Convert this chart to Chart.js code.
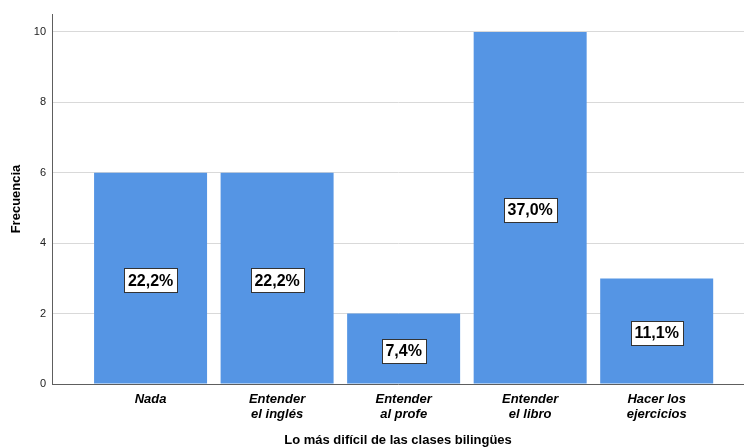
<!DOCTYPE html>
<html>
<head>
<meta charset="utf-8">
<script src="https://cdn.jsdelivr.net/npm/chart.js@4/dist/chart.umd.min.js"></script>
<style>
  html, body { margin: 0; padding: 0; background: #fff; }
  #wrap { width: 744px; height: 448px; }
</style>
</head>
<body>
<div id="wrap"><canvas id="bars"></canvas></div>
<script>
// categories (multi-line labels) and counts
const categories = [["Nada"], ["Entender", "el inglés"], ["Entender", "al profe"], ["Entender", "el libro"], ["Hacer los", "ejercicios"]];
const counts = [6, 6, 2, 10, 3];
const yTicks = [0, 2, 4, 6, 8, 10];

const total = counts.reduce((a, b) => a + b, 0);
const percentLabels = counts.map(c => (c / total * 100).toFixed(1).replace(".", ",") + "%");

// white boxed percentage in the middle of each bar
const percentBoxes = {
  id: "percentBoxes",
  afterDatasetsDraw(chart) {
    const ctx = chart.ctx;
    const meta = chart.getDatasetMeta(0);
    ctx.save();
    ctx.font = "bold 16px 'Liberation Sans', Arial, sans-serif";
    ctx.textAlign = "center";
    ctx.textBaseline = "middle";
    meta.data.forEach((bar, i) => {
      const txt = percentLabels[i];
      const cx = bar.x;
      const cy = (bar.y + bar.base) / 2 + 2;
      const w = Math.round(ctx.measureText(txt).width + 8);
      const h = 24;
      const bx = Math.round(cx - w / 2) + 0.5;
      const by = Math.round(cy - h / 2) + 0.5;
      ctx.fillStyle = "#fff";
      ctx.fillRect(bx, by, w, h);
      ctx.strokeStyle = "#333";
      ctx.lineWidth = 1;
      ctx.strokeRect(bx, by, w, h);
      ctx.fillStyle = "#000";
      ctx.fillText(txt, cx, cy + 1);
    });
    ctx.restore();
  }
};

new Chart(document.getElementById("bars"), {
  type: "bar",
  data: {
    datasets: [{
      data: counts.map((c, i) => ({ x: i, y: c })),
      backgroundColor: "#5595e4",
      borderWidth: 0,
      barPercentage: 0.893,
      categoryPercentage: 1
    }]
  },
  plugins: [percentBoxes],
  options: {
    responsive: true,
    maintainAspectRatio: false,
    animation: false,
    layout: { padding: { top: 14, right: 0, left: 0, bottom: 0 } },
    plugins: { legend: { display: false }, tooltip: { enabled: false } },
    scales: {
      x: {
        type: "linear",
        offset: false,
        min: -0.779,
        max: 4.69,
        afterBuildTicks: s => { s.ticks = categories.map((_, i) => ({ value: i })); },
        afterFit: s => { s.height = 64; },
        grid: { display: false, drawTicks: false },
        border: { display: true, color: "#5e5e5e", width: 1 },
        ticks: {
          callback: v => categories[v],
          maxRotation: 0,
          autoSkip: false,
          padding: 8,
          color: "#000",
          font: { family: "'Liberation Sans', Arial, sans-serif", size: 13, weight: "bold", style: "italic", lineHeight: 1.15 }
        },
        title: {
          display: true,
          text: "Lo más difícil de las clases bilingües",
          color: "#000",
          padding: { top: 0, bottom: 0 },
          font: { family: "'Liberation Sans', Arial, sans-serif", size: 13, weight: "bold" }
        }
      },
      y: {
        min: 0,
        max: 10.51,
        afterBuildTicks: s => { s.ticks = yTicks.map(v => ({ value: v })); },
        afterFit: s => { s.width = 52; },
        grid: { color: "#d9d9d9", drawTicks: false },
        border: { display: true, color: "#5e5e5e", width: 1 },
        ticks: {
          padding: 6,
          color: "#222",
          font: { family: "'Liberation Sans', Arial, sans-serif", size: 11 }
        },
        title: {
          display: true,
          text: "Frecuencia",
          color: "#000",
          padding: { top: 9, bottom: 0 },
          font: { family: "'Liberation Sans', Arial, sans-serif", size: 13, weight: "bold" }
        }
      }
    }
  }
});
</script>
</body>
</html>
